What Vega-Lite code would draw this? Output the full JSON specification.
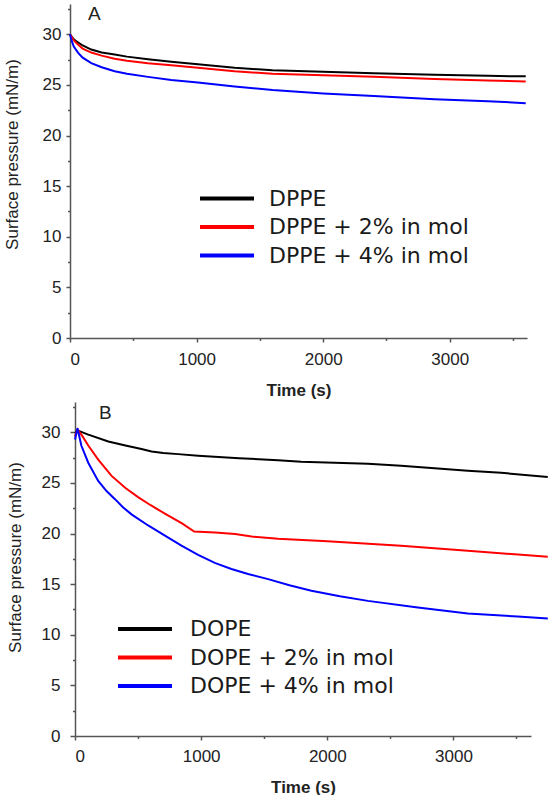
{
  "$schema": "https://vega.github.io/schema/vega-lite/v6.json",
  "background": "white",
  "padding": {"left": 3, "top": 0, "right": 0, "bottom": 0},
  "spacing": 0,
  "config": {
    "view": {"stroke": null},
    "axis": {
      "grid": false,
      "domainColor": "#555555",
      "domainWidth": 1.5,
      "tickColor": "#555555",
      "tickWidth": 1.5,
      "labelFont": "Liberation Sans",
      "labelFontSize": 17,
      "labelColor": "#222222",
      "titleFont": "Liberation Sans",
      "titleFontSize": 17,
      "titleFontWeight": "normal",
      "titleColor": "#222222",
      "labelOverlap": false
    },
    "legend": {
      "orient": "none",
      "title": null,
      "symbolType": "stroke",
      "symbolSize": 2916,
      "symbolStrokeWidth": 4,
      "labelFont": "DejaVu Sans",
      "labelFontSize": 22,
      "labelColor": "#1a1a1a",
      "labelLimit": 400,
      "clipHeight": 28,
      "rowPadding": 0.5,
      "padding": 0
    },
    "title": {"font": "Liberation Sans", "fontSize": 19, "fontWeight": "normal", "color": "#222222", "anchor": "start", "frame": "group"}
  },
  "datasets": {
    "A": [
      {"t": 0, "p": 30, "s": "DPPE"}, {"t": 30, "p": 29.5, "s": "DPPE"}, {"t": 63, "p": 29.2, "s": "DPPE"}, {"t": 100, "p": 28.9, "s": "DPPE"}, {"t": 168, "p": 28.5, "s": "DPPE"}, {"t": 250, "p": 28.2, "s": "DPPE"}, {"t": 353, "p": 28.0, "s": "DPPE"}, {"t": 450, "p": 27.8, "s": "DPPE"}, {"t": 616, "p": 27.55, "s": "DPPE"}, {"t": 800, "p": 27.3, "s": "DPPE"}, {"t": 1010, "p": 27.05, "s": "DPPE"}, {"t": 1300, "p": 26.7, "s": "DPPE"}, {"t": 1600, "p": 26.45, "s": "DPPE"}, {"t": 2000, "p": 26.3, "s": "DPPE"}, {"t": 2400, "p": 26.15, "s": "DPPE"}, {"t": 2880, "p": 26.0, "s": "DPPE"}, {"t": 3300, "p": 25.9, "s": "DPPE"}, {"t": 3600, "p": 25.85, "s": "DPPE"},
      {"t": 0, "p": 30, "s": "DPPE + 2% in mol"}, {"t": 30, "p": 29.4, "s": "DPPE + 2% in mol"}, {"t": 63, "p": 29.0, "s": "DPPE + 2% in mol"}, {"t": 100, "p": 28.6, "s": "DPPE + 2% in mol"}, {"t": 168, "p": 28.2, "s": "DPPE + 2% in mol"}, {"t": 250, "p": 27.9, "s": "DPPE + 2% in mol"}, {"t": 353, "p": 27.6, "s": "DPPE + 2% in mol"}, {"t": 450, "p": 27.4, "s": "DPPE + 2% in mol"}, {"t": 616, "p": 27.15, "s": "DPPE + 2% in mol"}, {"t": 800, "p": 26.95, "s": "DPPE + 2% in mol"}, {"t": 1010, "p": 26.7, "s": "DPPE + 2% in mol"}, {"t": 1300, "p": 26.35, "s": "DPPE + 2% in mol"}, {"t": 1600, "p": 26.1, "s": "DPPE + 2% in mol"}, {"t": 2000, "p": 25.95, "s": "DPPE + 2% in mol"}, {"t": 2400, "p": 25.8, "s": "DPPE + 2% in mol"}, {"t": 2880, "p": 25.6, "s": "DPPE + 2% in mol"}, {"t": 3300, "p": 25.45, "s": "DPPE + 2% in mol"}, {"t": 3600, "p": 25.35, "s": "DPPE + 2% in mol"},
      {"t": 0, "p": 30, "s": "DPPE + 4% in mol"}, {"t": 15, "p": 29.3, "s": "DPPE + 4% in mol"}, {"t": 30, "p": 28.8, "s": "DPPE + 4% in mol"}, {"t": 63, "p": 28.2, "s": "DPPE + 4% in mol"}, {"t": 100, "p": 27.7, "s": "DPPE + 4% in mol"}, {"t": 168, "p": 27.15, "s": "DPPE + 4% in mol"}, {"t": 250, "p": 26.75, "s": "DPPE + 4% in mol"}, {"t": 353, "p": 26.35, "s": "DPPE + 4% in mol"}, {"t": 450, "p": 26.1, "s": "DPPE + 4% in mol"}, {"t": 616, "p": 25.8, "s": "DPPE + 4% in mol"}, {"t": 800, "p": 25.5, "s": "DPPE + 4% in mol"}, {"t": 1010, "p": 25.25, "s": "DPPE + 4% in mol"}, {"t": 1300, "p": 24.85, "s": "DPPE + 4% in mol"}, {"t": 1600, "p": 24.5, "s": "DPPE + 4% in mol"}, {"t": 2000, "p": 24.15, "s": "DPPE + 4% in mol"}, {"t": 2400, "p": 23.9, "s": "DPPE + 4% in mol"}, {"t": 2880, "p": 23.6, "s": "DPPE + 4% in mol"}, {"t": 3300, "p": 23.4, "s": "DPPE + 4% in mol"}, {"t": 3600, "p": 23.2, "s": "DPPE + 4% in mol"}
    ],
    "B": [
      {"t": 0, "p": 29.9, "s": "DOPE"}, {"t": 20, "p": 30.2, "s": "DOPE"}, {"t": 100, "p": 29.8, "s": "DOPE"}, {"t": 264, "p": 29.1, "s": "DOPE"}, {"t": 400, "p": 28.7, "s": "DOPE"}, {"t": 527, "p": 28.35, "s": "DOPE"}, {"t": 607, "p": 28.1, "s": "DOPE"}, {"t": 700, "p": 27.95, "s": "DOPE"}, {"t": 818, "p": 27.85, "s": "DOPE"}, {"t": 976, "p": 27.7, "s": "DOPE"}, {"t": 1300, "p": 27.45, "s": "DOPE"}, {"t": 1610, "p": 27.25, "s": "DOPE"}, {"t": 1793, "p": 27.1, "s": "DOPE"}, {"t": 2058, "p": 27.0, "s": "DOPE"}, {"t": 2322, "p": 26.9, "s": "DOPE"}, {"t": 2585, "p": 26.7, "s": "DOPE"}, {"t": 2850, "p": 26.45, "s": "DOPE"}, {"t": 3114, "p": 26.2, "s": "DOPE"}, {"t": 3378, "p": 26.0, "s": "DOPE"}, {"t": 3748, "p": 25.6, "s": "DOPE"},
      {"t": 0, "p": 29.6, "s": "DOPE + 2% in mol"}, {"t": 20, "p": 30.3, "s": "DOPE + 2% in mol"}, {"t": 60, "p": 29.6, "s": "DOPE + 2% in mol"}, {"t": 105, "p": 28.7, "s": "DOPE + 2% in mol"}, {"t": 184, "p": 27.3, "s": "DOPE + 2% in mol"}, {"t": 290, "p": 25.7, "s": "DOPE + 2% in mol"}, {"t": 400, "p": 24.5, "s": "DOPE + 2% in mol"}, {"t": 500, "p": 23.6, "s": "DOPE + 2% in mol"}, {"t": 600, "p": 22.8, "s": "DOPE + 2% in mol"}, {"t": 716, "p": 21.95, "s": "DOPE + 2% in mol"}, {"t": 848, "p": 21.0, "s": "DOPE + 2% in mol"}, {"t": 945, "p": 20.2, "s": "DOPE + 2% in mol"}, {"t": 1111, "p": 20.1, "s": "DOPE + 2% in mol"}, {"t": 1270, "p": 19.95, "s": "DOPE + 2% in mol"}, {"t": 1400, "p": 19.7, "s": "DOPE + 2% in mol"}, {"t": 1610, "p": 19.5, "s": "DOPE + 2% in mol"}, {"t": 2000, "p": 19.25, "s": "DOPE + 2% in mol"}, {"t": 2585, "p": 18.8, "s": "DOPE + 2% in mol"}, {"t": 3114, "p": 18.3, "s": "DOPE + 2% in mol"}, {"t": 3748, "p": 17.7, "s": "DOPE + 2% in mol"},
      {"t": 0, "p": 29.3, "s": "DOPE + 4% in mol"}, {"t": 20, "p": 30.4, "s": "DOPE + 4% in mol"}, {"t": 50, "p": 28.7, "s": "DOPE + 4% in mol"}, {"t": 105, "p": 27.0, "s": "DOPE + 4% in mol"}, {"t": 184, "p": 25.2, "s": "DOPE + 4% in mol"}, {"t": 250, "p": 24.2, "s": "DOPE + 4% in mol"}, {"t": 317, "p": 23.4, "s": "DOPE + 4% in mol"}, {"t": 380, "p": 22.6, "s": "DOPE + 4% in mol"}, {"t": 448, "p": 21.9, "s": "DOPE + 4% in mol"}, {"t": 580, "p": 20.8, "s": "DOPE + 4% in mol"}, {"t": 713, "p": 19.8, "s": "DOPE + 4% in mol"}, {"t": 844, "p": 18.8, "s": "DOPE + 4% in mol"}, {"t": 976, "p": 17.9, "s": "DOPE + 4% in mol"}, {"t": 1108, "p": 17.1, "s": "DOPE + 4% in mol"}, {"t": 1240, "p": 16.5, "s": "DOPE + 4% in mol"}, {"t": 1372, "p": 16.0, "s": "DOPE + 4% in mol"}, {"t": 1531, "p": 15.5, "s": "DOPE + 4% in mol"}, {"t": 1700, "p": 14.9, "s": "DOPE + 4% in mol"}, {"t": 1874, "p": 14.35, "s": "DOPE + 4% in mol"}, {"t": 2100, "p": 13.8, "s": "DOPE + 4% in mol"}, {"t": 2322, "p": 13.35, "s": "DOPE + 4% in mol"}, {"t": 2718, "p": 12.7, "s": "DOPE + 4% in mol"}, {"t": 3114, "p": 12.1, "s": "DOPE + 4% in mol"}, {"t": 3510, "p": 11.8, "s": "DOPE + 4% in mol"}, {"t": 3748, "p": 11.6, "s": "DOPE + 4% in mol"}
    ]
  },
  "resolve": {"scale": {"color": "independent"}, "legend": {"color": "independent"}},
  "vconcat": [
    {
      "width": 457,
      "height": 334,
      "data": {"name": "A"},
      "title": {"text": "A", "offset": -24, "dx": 18},
      "mark": {"type": "line", "strokeWidth": 2},
      "encoding": {
        "x": {
          "field": "t", "type": "quantitative",
          "scale": {"domain": [0, 3610], "nice": false, "zero": false},
          "axis": {
            "title": "Time (s)", "titleFontWeight": "bold", "titleFontSize": 17, "titlePadding": 15,
            "values": [0, 500, 1000, 1500, 2000, 2500, 3000, 3500],
            "format": "d",
            "labelExpr": "datum.value % 1000 === 0 ? datum.label : ''",
            "labelPadding": 9,
            "tickSize": {"condition": {"test": "datum.value % 1000 === 0", "value": 4}, "value": 2.5}
          }
        },
        "y": {
          "field": "p", "type": "quantitative",
          "scale": {"domain": [0, 33], "nice": false},
          "axis": {
            "title": "Surface pressure (mN/m)", "titleY": 150, "titlePadding": 21,
            "values": [0, 2.5, 5, 7.5, 10, 12.5, 15, 17.5, 20, 22.5, 25, 27.5, 30, 32.5],
            "labelExpr": "datum.value % 5 === 0 ? datum.label : ''",
            "labelPadding": 5,
            "tickSize": {"condition": {"test": "datum.value % 5 === 0", "value": 4}, "value": 2.5}
          }
        },
        "color": {
          "field": "s", "type": "nominal",
          "scale": {"domain": ["DPPE", "DPPE + 2% in mol", "DPPE + 4% in mol"], "range": ["#000000", "#ff0000", "#0000ff"]},
          "legend": {"legendX": 128, "legendY": 180.5, "labelOffset": 13}
        }
      }
    },
    {
      "width": 461,
      "height": 334,
      "data": {"name": "B"},
      "title": {"text": "B", "offset": -25, "dx": 29},
      "mark": {"type": "line", "strokeWidth": 2},
      "encoding": {
        "x": {
          "field": "t", "type": "quantitative",
          "scale": {"domain": [0, 3615], "nice": false, "zero": false, "range": [5, 461]},
          "axis": {
            "title": "Time (s)", "titleFontWeight": "bold", "titleFontSize": 17, "titlePadding": 15,
            "values": [0, 500, 1000, 1500, 2000, 2500, 3000, 3500],
            "format": "d",
            "labelExpr": "datum.value % 1000 === 0 ? datum.label : ''",
            "labelPadding": 8,
            "tickSize": {"condition": {"test": "datum.value % 1000 === 0", "value": 4}, "value": 2.5}
          }
        },
        "y": {
          "field": "p", "type": "quantitative",
          "scale": {"domain": [0, 33], "nice": false},
          "axis": {
            "title": "Surface pressure (mN/m)", "titleY": 155, "titlePadding": 17,
            "offset": -5,
            "values": [0, 2.5, 5, 7.5, 10, 12.5, 15, 17.5, 20, 22.5, 25, 27.5, 30, 32.5],
            "labelExpr": "datum.value % 5 === 0 ? datum.label : ''",
            "labelPadding": 10,
            "tickSize": {"condition": {"test": "datum.value % 5 === 0", "value": 5}, "value": 2.5}
          }
        },
        "color": {
          "field": "s", "type": "nominal",
          "scale": {"domain": ["DOPE", "DOPE + 2% in mol", "DOPE + 4% in mol"], "range": ["#000000", "#ff0000", "#0000ff"]},
          "legend": {"legendX": 46, "legendY": 213, "labelOffset": 16}
        }
      }
    }
  ]
}
